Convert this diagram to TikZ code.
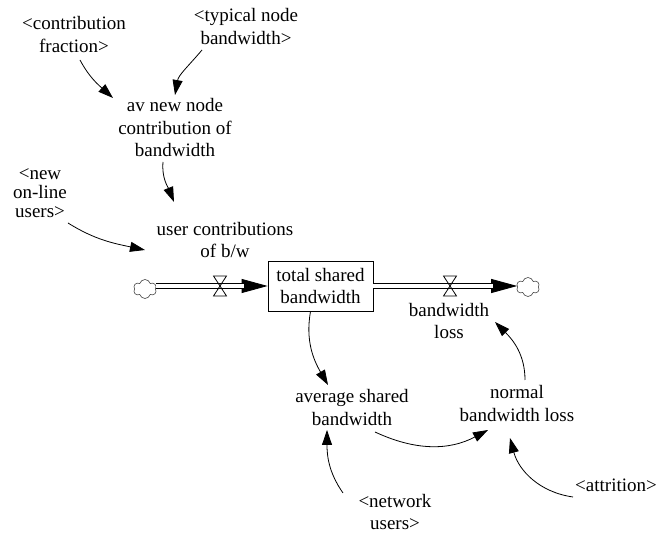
\documentclass[tikz,border=0pt]{standalone}
\usepackage{fontspec}
\setmainfont{Liberation Serif}[Ligatures=TeX]
\setsansfont{Liberation Serif}
\usetikzlibrary{arrows.meta,shapes.symbols}

\tikzset{
  label/.style={align=center, inner sep=0pt, font=\rmfamily\fontsize{19}{22.5}\selectfont},
  tightlabel/.style={align=center, inner sep=0pt, font=\rmfamily\fontsize{19}{19}\selectfont},
  stock/.style={draw, line width=0.8pt, minimum width=105pt, minimum height=50pt,
    inner sep=0pt, align=center, font=\rmfamily\fontsize{19}{22.5}\selectfont},
  source/.style={cloud, cloud puffs=6, cloud puff arc=150, draw=black!75, line width=0.6pt,
    minimum width=23pt, minimum height=19pt, inner sep=0pt},
  link/.style={line width=0.8pt, -{Triangle[length=15pt,width=10pt]}},
  flowhead/.style={line width=0.8pt, -{Triangle[length=26pt,width=14pt]}},
  pipe/.style={double, double distance=3.5pt, line width=0.8pt, shorten >=24pt},
  valve/.style={line width=0.8pt}
}

\begin{document}
\begin{tikzpicture}[x=1pt,y=1pt]
\useasboundingbox (0,0) rectangle (657,535);

% variables
\node[label] (cf)  at (74,500.5)  {<contribution\\fraction>};
\node[label] (tnb) at (246,508.5) {<typical node\\bandwidth>};
\node[label] (av)  at (175,407)   {av new node\\contribution of\\bandwidth};
\node[tightlabel] (nou) at (40,342) {<new\\on-line\\users>};
\node[label] (uc)  at (225,295)   {user contributions\\of b/w};
\node[label] (bl)  at (449,214)   {bandwidth\\loss};
\node[label] (asb) at (352,127.5) {average shared\\bandwidth};
\node[label] (nbl) at (517,131.5) {normal\\bandwidth loss};
\node[label] (nu)  at (395,23)    {<network\\users>};
\node[label] (att) at (616,50)    {<attrition>};

% stock, sources and valves
\node[stock] (box) at (320.5,249) {total shared\\bandwidth};
\node[source] (cL) at (145,246) {};
\node[source] (cR) at (528,248) {};
\coordinate (vL) at (220,249);
\coordinate (vR) at (450,249);

% flows
\draw[flowhead] (cL.east |- box.west) -- (box.west);
\draw[pipe] (cL.east |- box.west) -- (box.west);
\draw[flowhead] (box.east) -- (cR.west |- box.east);
\draw[pipe] (box.east) -- (cR.west |- box.east);

\foreach \v in {vL,vR}
  \draw[valve] ([shift={(-6.5,10)}]\v) -- ([shift={(6.5,10)}]\v)
    -- ([shift={(-6.5,-10)}]\v) -- ([shift={(6.5,-10)}]\v) -- cycle;

% information links
\draw[link] ([shift={(6,-25.5)}]cf.center) to[out=-62,in=138] ([shift={(-62,30)}]av.center);
\draw[link] ([shift={(-44,-23.5)}]tnb.center) to[out=-130,in=80] ([shift={(0,33)}]av.center);
\draw[link] ([shift={(-12,-34)}]av.center) to[out=-95,in=112] ([shift={(-51,38)}]uc.center);
\draw[link] ([shift={(28,-30)}]nou.center) to[out=-32,in=168] ([shift={(-80,-10)}]uc.center);
\draw[link] ([xshift=-10pt]box.south) to[out=-100,in=120] ([shift={(-24,22.5)}]asb.center);
\draw[link] ([shift={(23,-24.5)}]asb.center) to[out=-25,in=-152] ([shift={(-29,-26.5)}]nbl.center);
\draw[link] ([shift={(8,23.5)}]nbl.center) to[out=90,in=-45] ([shift={(46,-1)}]bl.center);
\draw[link] ([shift={(-52,19)}]nu.center) to[out=125,in=-90] ([shift={(-25,-22.5)}]asb.center);
\draw[link] ([shift={(-43,-12)}]att.center) to[out=172,in=-75] ([shift={(-7,-34.5)}]nbl.center);
\end{tikzpicture}
\end{document}
